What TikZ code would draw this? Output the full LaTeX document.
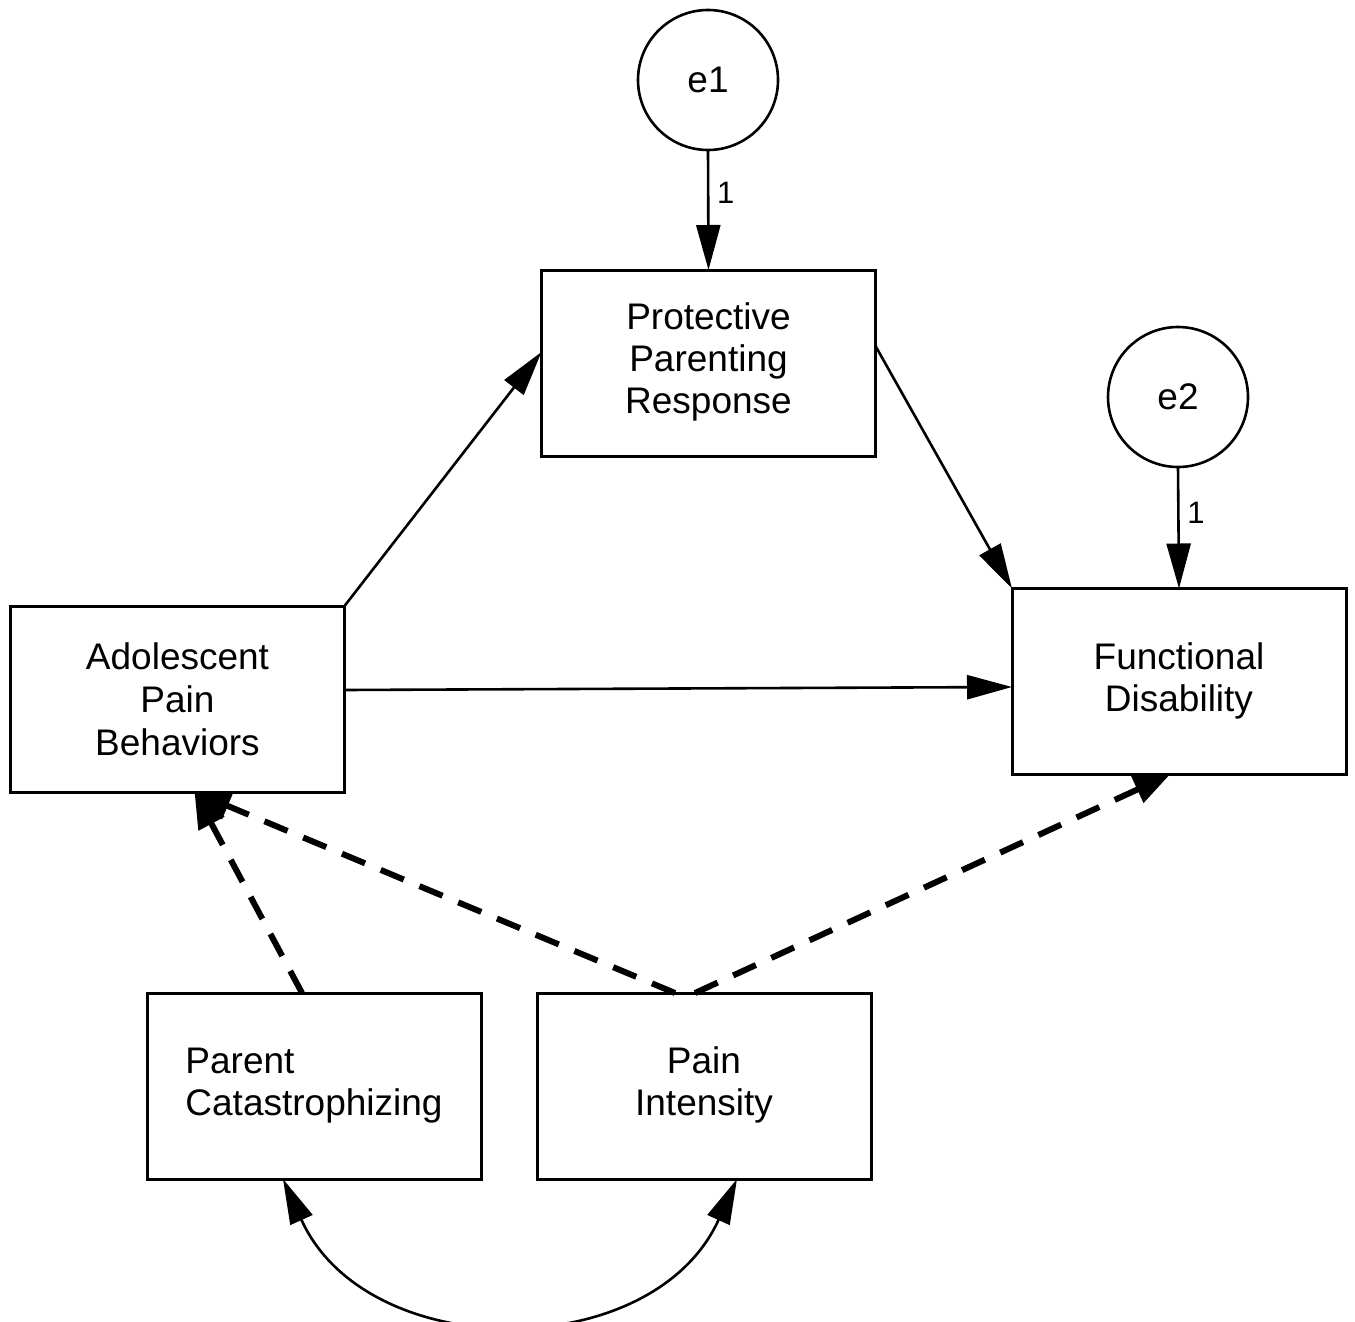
\documentclass[tikz,border=0pt]{standalone}
\usepackage{fontspec}
\setmainfont{Liberation Sans}
\usetikzlibrary{arrows.meta}
\begin{document}
\begin{tikzpicture}[x=1pt,y=-1pt,
  every node/.style={font=\fontsize{37}{43}\selectfont, inner sep=0pt, outer sep=0pt},
  var/.style={draw, line width=3pt, rectangle, minimum width=334pt, minimum height=186pt, align=center},
  err/.style={draw, line width=2.6pt, circle, minimum size=140pt},
  path/.style={line width=2.6pt, -{Triangle[length=45pt,width=24pt]}},
  dpath/.style={line width=6pt, dash pattern=on 25pt off 17pt, -{Triangle[length=36pt,width=28pt]}},
  lbl/.style={font=\fontsize{31}{33}\selectfont}
]
\useasboundingbox (0,0) rectangle (1355,1322);
\fill[white] (0,0) rectangle (1355,1322);

\node[err] (e1) at (708,80) {e1};
\node[err] (e2) at (1178,397) {e2};
\node[var] (ppr) at (708.5,363) {\raisebox{-3pt}{\begin{tabular}{@{}c@{}}Protective\\[-1pt]Parenting\\[-1pt]Response\end{tabular}}};
\node[var] (fd) at (1179,681.5) {\raisebox{-2pt}{\begin{tabular}{@{}c@{}}Functional\\[-1pt]Disability\end{tabular}}};
\node[var] (apb) at (177.5,699) {Adolescent\\Pain\\Behaviors};
\node[var] (pc) at (314,1086) {\raisebox{-2pt}{\begin{tabular}{@{}l@{}}Parent\\[-1pt]Catastrophizing\end{tabular}}};
\node[var] (pi) at (704,1086) {\raisebox{-2pt}{\begin{tabular}{@{}c@{}}Pain\\[-1pt]Intensity\end{tabular}}};

\draw[path] (e1.south) -- node[lbl, right=9pt, pos=0.36] (l1) {1} (ppr.north);
\draw[path] (e2.south) -- node[lbl, right=9pt, pos=0.38] (l2) {1} (fd.north);
\draw[path] (apb.north east) -- ([yshift=11pt]ppr.west);
\draw[path] ([yshift=17pt]ppr.east) -- (fd.north west);
\draw[path] ([yshift=9pt]apb.east) -- ([yshift=-5.5pt]fd.west);

\draw[dpath] ([xshift=-12pt]pc.north) -- ([xshift=17pt]apb.south);
\draw[dpath] ([xshift=-29pt]pi.north) -- ([xshift=17pt]apb.south);
\draw[dpath] ([xshift=-9pt]pi.north) -- ([xshift=-9pt]fd.south);

\draw[line width=2.6pt, {Triangle[length=45pt,width=24pt]}-{Triangle[length=45pt,width=24pt]}]
  ([xshift=-31pt]pc.south) .. controls (367,1365) and (653,1365) .. ([xshift=33pt]pi.south);
\end{tikzpicture}
\end{document}
